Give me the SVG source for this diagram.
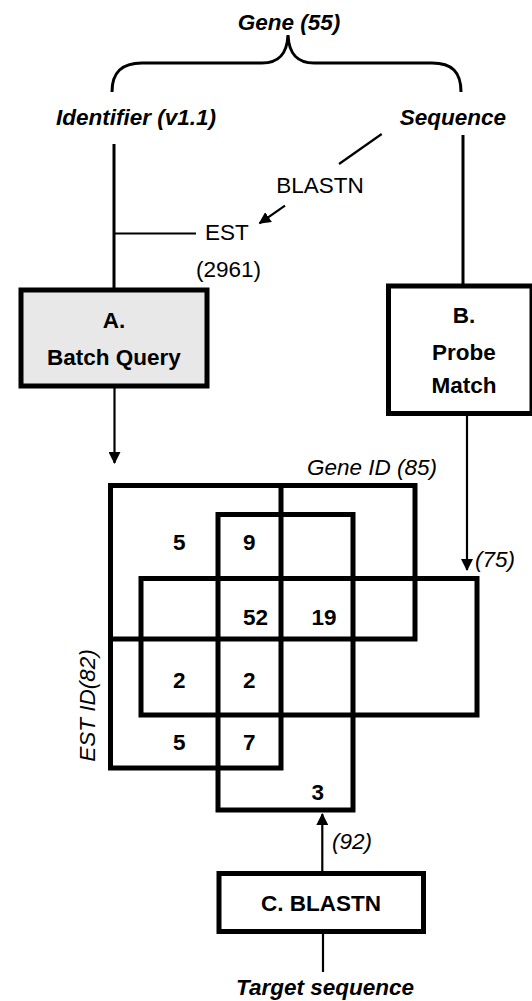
<svg xmlns="http://www.w3.org/2000/svg" width="532" height="1001" viewBox="0 0 532 1001">
<style>
text{font-family:"Liberation Sans",Arial,sans-serif;font-size:22.5px;fill:#000}
.bi{font-weight:bold;font-style:italic}
.b{font-weight:bold}
.i{font-style:italic}
.m{text-anchor:middle}
.box{fill:#fff;stroke:#000;stroke-width:5}
.venn{fill:none;stroke:#000;stroke-width:5}
.ln{fill:none;stroke:#000;stroke-width:3}
.thin{fill:none;stroke:#000;stroke-width:2.2}
</style>
<defs>
<marker id="ah" viewBox="0 0 12 12" refX="11" refY="6" markerWidth="12" markerHeight="12" markerUnits="userSpaceOnUse" orient="auto">
<path d="M0,0 L12,6 L0,12 Z" fill="#000"/>
</marker>
</defs>
<g id="gene">
<text class="bi m" x="289" y="30">Gene (55)</text>
<path class="ln" d="M112,92 C112,72 122,63 142,63 L262,63 C278,63 287,55 288,35 C289,55 298,63 314,63 L432,63 C452,63 461,72 461,92"/>
</g>
<g id="identifier"><text class="bi m" x="136" y="125">Identifier (v1.1)</text></g>
<g id="sequence"><text class="bi m" x="453" y="125">Sequence</text></g>
<g id="blastn-label"><text class="m" x="320" y="193">BLASTN</text></g>
<g id="est"><text x="205" y="240">EST</text><text class="m" x="228.5" y="277">(2961)</text></g>
<g id="boxA">
<rect class="box" x="21" y="290" width="186" height="96" style="fill:#e8e8e8"/>
<text class="b m" x="114" y="328">A.</text>
<text class="b m" x="114" y="365">Batch Query</text>
</g>
<g id="boxB">
<rect class="box" x="388.5" y="286" width="143.5" height="127.5"/>
<text class="b m" x="464" y="323">B.</text>
<text class="b m" x="464" y="360">Probe</text>
<text class="b m" x="464" y="393">Match</text>
</g>
<g id="boxC">
<rect class="box" x="219" y="873.5" width="204.5" height="58"/>
<text class="b m" x="321" y="911">C. BLASTN</text>
</g>
<g id="target"><text class="bi m" x="325" y="995">Target sequence</text></g>
<g id="venn">
<rect class="venn" x="110.5" y="485.5" width="170.5" height="282.5"/>
<rect class="venn" x="110.5" y="485.5" width="304.5" height="153.5"/>
<rect class="venn" x="218" y="514.5" width="135" height="295.5"/>
<rect class="venn" x="141" y="578.5" width="336" height="136.5"/>
<text class="i" x="307" y="475">Gene ID (85)</text>
<text class="i" x="475" y="567">(75)</text>
<text class="i" x="332" y="849">(92)</text>
<text class="i m" transform="translate(95,705.5) rotate(-90)" x="0" y="0">EST ID(82)</text>
<g class="b">
<text class="b" x="173" y="550">5</text>
<text class="b" x="243" y="550">9</text>
<text class="b" x="243" y="625">52</text>
<text class="b" x="311.5" y="625">19</text>
<text class="b" x="173" y="688">2</text>
<text class="b" x="243" y="688">2</text>
<text class="b" x="173" y="750">5</text>
<text class="b" x="243" y="750">7</text>
<text class="b" x="311.5" y="800">3</text>
</g>
</g>
<g id="connectors">
<line class="ln" x1="114" y1="144" x2="114" y2="288"/>
<line class="thin" x1="114" y1="233.5" x2="196" y2="233.5"/>
<line class="thin" x1="381.7" y1="134" x2="339" y2="164"/>
<line class="thin" x1="285" y1="205.7" x2="259.5" y2="223.3" marker-end="url(#ah)"/>
<line class="ln" x1="463" y1="135" x2="463" y2="284"/>
<line class="thin" x1="114.5" y1="388" x2="114.5" y2="463" marker-end="url(#ah)"/>
<line class="thin" x1="467" y1="415" x2="467" y2="570" marker-end="url(#ah)"/>
<line class="thin" x1="322.3" y1="871" x2="322.3" y2="814" marker-end="url(#ah)"/>
<line class="thin" x1="323" y1="934" x2="323" y2="972"/>
</g>
</svg>
